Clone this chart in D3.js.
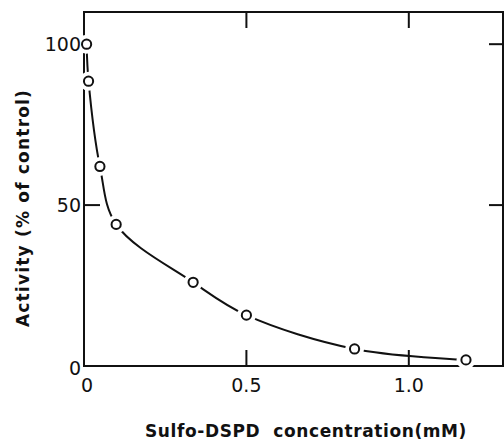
<!DOCTYPE html>
<html>
<head>
<meta charset="utf-8">
<script src="https://cdn.jsdelivr.net/npm/d3@7"></script>
<style>
  html, body { margin: 0; padding: 0; background: #fff; }
  svg { display: block; }
  .tick-label { font-family: "DejaVu Sans", sans-serif; font-size: 19px; fill: #111; }
  .axis-title { font-family: "DejaVu Sans", sans-serif; font-size: 17px; font-weight: bold; fill: #111; white-space: pre; }
</style>
</head>
<body>
<div id="chart"></div>
<script>
/* Enzyme activity vs. Sulfo-DSPD concentration: open circles + smooth fitted curve. */

// concentration (mM) and activity (% of control)
const conc     = [0.008, 0.014, 0.049, 0.099, 0.336, 0.50, 0.833, 1.176];
const activity = [100,   88.5,  62,    44,    26,    15.8, 5.3,   1.9];

const xTicks = [0, 0.5, 1.0];
const xTickLabels = ["0", "0.5", "1.0"];
const yTicks = [0, 50, 100];
const yTickLabels = ["0", "50", "100"];

const W = 504, H = 445;
const FRAME = {left: 84, right: 503, top: 12, bottom: 366};

const svg = d3.select("#chart").append("svg")
    .attr("width", W).attr("height", H);

// SCALES
const x = d3.scaleLinear().domain([0, 1.29]).range([FRAME.left, FRAME.right]);
const y = d3.scaleLinear().domain([0, 110]).range([FRAME.bottom, FRAME.top]);

const ink = "#111";
const TICK = 16;

// frame
svg.append("rect")
    .attr("x", FRAME.left).attr("y", FRAME.top)
    .attr("width", FRAME.right - FRAME.left).attr("height", FRAME.bottom - FRAME.top)
    .attr("fill", "none").attr("stroke", ink).attr("stroke-width", 2);

// inward ticks: bottom/top at 0.5, 1.0 ; left at 50 ; right at 50, 100
const g = svg.append("g").attr("stroke", ink).attr("stroke-width", 2);
xTicks.filter(d => d > 0).forEach(d => {
  g.append("line").attr("x1", x(d)).attr("x2", x(d))
      .attr("y1", FRAME.bottom).attr("y2", FRAME.bottom - TICK);
  g.append("line").attr("x1", x(d)).attr("x2", x(d))
      .attr("y1", FRAME.top).attr("y2", FRAME.top + TICK);
});
yTicks.filter(d => d > 0).forEach(d => {
  if (d === 50) g.append("line").attr("x1", FRAME.left).attr("x2", FRAME.left + TICK)
      .attr("y1", y(d)).attr("y2", y(d));
  g.append("line").attr("x1", FRAME.right).attr("x2", FRAME.right - 14)
      .attr("y1", y(d)).attr("y2", y(d));
});

// fitted curve
const pts = conc.map((c, i) => [c, activity[i]]);
const line = d3.line().x(d => x(d[0])).y(d => y(d[1])).curve(d3.curveCatmullRom.alpha(0.5));
svg.append("path").datum(pts)
    .attr("d", line)
    .attr("fill", "none").attr("stroke", ink).attr("stroke-width", 2);

// white halo leaves a gap in the curve around each marker
svg.selectAll(".halo").data(pts).join("circle")
    .attr("cx", d => x(d[0])).attr("cy", d => y(d[1])).attr("r", 7)
    .attr("fill", "#fff").attr("stroke", "#fff").attr("stroke-width", 5);

svg.selectAll(".dot").data(pts).join("circle")
    .attr("cx", d => x(d[0])).attr("cy", d => y(d[1])).attr("r", 4.6)
    .attr("fill", "#fff").attr("stroke", ink).attr("stroke-width", 2);

// tick labels (drawn after the markers so halos don't clip them)
svg.selectAll(".xl").data(xTicks).join("text")
    .attr("class", "tick-label")
    .attr("x", (d, i) => x(d) + (i === 0 ? 3 : 0))
    .attr("y", FRAME.bottom + 26)
    .attr("text-anchor", "middle")
    .text((d, i) => xTickLabels[i]);

svg.selectAll(".yl").data(yTicks).join("text")
    .attr("class", "tick-label")
    .attr("x", FRAME.left - 3)
    .attr("y", d => y(d) + 7 + (d === 0 ? 2 : 0))
    .attr("text-anchor", "end")
    .text((d, i) => yTickLabels[i]);

// axis titles
svg.append("text").attr("class", "axis-title")
    .attr("x", 306).attr("y", 437).attr("text-anchor", "middle")
    .attr("letter-spacing", 0.6)
    .text("Sulfo-DSPD  concentration(mM)");

svg.append("text").attr("class", "axis-title")
    .attr("transform", `translate(29,${208}) rotate(-90)`)
    .attr("text-anchor", "middle")
    .attr("letter-spacing", 1.2)
    .text("Activity (% of control)");
</script>
</body>
</html>
